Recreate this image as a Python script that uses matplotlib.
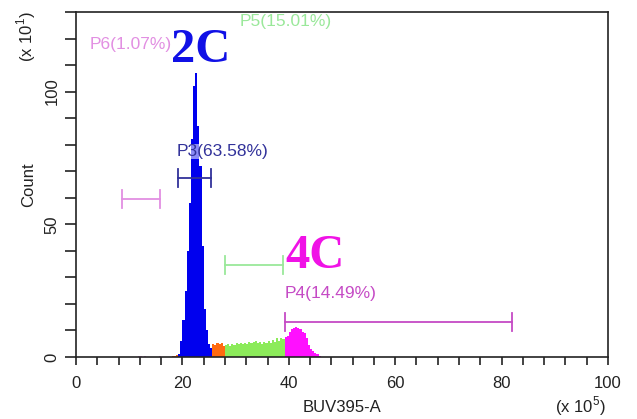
import numpy as np
import matplotlib.pyplot as plt

# ------------------------------------------------------------------
# Dados (lidos do histograma BUV395-A, eixo x em x10^5, contagem em x10^1)
# ------------------------------------------------------------------
BIN_START = 8.0
BIN_WIDTH = 0.4
counts = [
    0, 0, 0, 0, 0, 0, 0, 0, 0, 0.4,              # 8.0 - 11.6
    0.4, 0, 0.4, 0, 0, 0, 0, 0, 0, 0.4,          # 12.0 - 15.6
    0, 0, 0, 0, 0, 0.4, 0.5, 0.6, 1.0, 6,        # 16.0 - 19.6
    14, 25, 40, 58, 82, 102, 107, 87, 72, 42,    # 20.0 - 23.6
    18, 10, 5, 3.5, 5, 4.6, 5.2, 4.8, 5.3, 4.2,  # 24.0 - 27.6
    4.5, 4.8, 4.3, 5.0, 4.6, 5.2, 4.8, 5.3, 4.9, 5.4,  # 28.0 - 31.6
    5.0, 5.6, 5.1, 5.5, 5.9, 5.2, 5.6, 5.0, 5.8, 5.3,  # 32.0 - 35.6
    6.2, 5.4, 6.5, 5.8, 7.0, 6.0, 7.2, 6.8, 7.5, 8.0,  # 36.0 - 39.6
    9.5, 10.5, 11.0, 11.2, 11.0, 10.6, 9.5, 9.0, 7.0, 4.5,  # 40.0 - 43.6
    3.0, 2.2, 1.6, 1.0, 0.5,                     # 44.0 - 45.6
]

# portões
gate_names = ["P6", "P3", "P5", "P4"]
gate_pct = ["1.07", "63.58", "15.01", "14.49"]
gate_lo = [8.6, 19.2, 28.0, 39.2]
gate_hi = [15.8, 25.4, 39.0, 82.0]
gate_y = [59.5, 67.4, 34.8, 13.3]
gate_label_xy = [(2.6, 117.8), (19.0, 77.3), (30.8, 126.5), (39.3, 23.9)]
gate_colors = ["#e28fe2", "#32329a", "#9ae89a", "#c54ac5"]
fill_colors = {"P6": "#e28fe2", "P3": "#0000ee", "P5": "#8ceb5a", "P4": "#ff10ff"}
other_color = "#ff6a10"

FONT = "Liberation Sans"
plt.rcParams["font.family"] = [FONT, "DejaVu Sans"]

fig = plt.figure(figsize=(6.37, 4.19), dpi=100)
ax = fig.add_axes([0.1193, 0.1480, 0.8352, 0.8234])

lefts = BIN_START + BIN_WIDTH * np.arange(len(counts))
centers = lefts + BIN_WIDTH / 2
cols = []
for c in centers:
    col = other_color
    for name, lo, hi in zip(gate_names, gate_lo, gate_hi):
        if lo <= c <= hi:
            col = fill_colors[name]
    cols.append(col)
ax.bar(lefts, counts, width=BIN_WIDTH, align="edge", color=cols, linewidth=0)

# barras dos portões
cap = 3.4
for name, pct, lo, hi, y, (tx, ty), col in zip(gate_names, gate_pct, gate_lo, gate_hi,
                                               gate_y, gate_label_xy, gate_colors):
    ax.plot([lo, hi], [y, y], color=col, lw=1.3)
    ax.plot([lo, lo], [y - cap, y + cap], color=col, lw=1.3)
    ax.plot([hi, hi], [y - cap, y + cap], color=col, lw=1.3)
    kw = {}
    if name == "P3":
        kw["bbox"] = dict(facecolor="white", alpha=0.55, edgecolor="none", pad=0)
    ax.text(tx, ty, f"{name}({pct}%)", color=col, fontsize=12.5,
            ha="left", va="center", **kw)

ax.text(23.4, 115.5, "2C", color="#1010e6", fontsize=35, fontweight="bold",
        family="Liberation Serif", ha="center", va="center")
ax.text(45.0, 38.0, "4C", color="#f012e6", fontsize=35, fontweight="bold",
        family="Liberation Serif", ha="center", va="center")

ax.set_xlim(0, 100)
ax.set_ylim(0, 130)
ax.set_xticks(np.arange(0, 101, 20))
ax.set_xticks(np.arange(0, 101, 4), minor=True)
ax.set_yticks([0, 50, 100])
ax.set_yticks(np.arange(0, 131, 10), minor=True)
ax.tick_params(axis="x", which="both", direction="out", length=6, width=1.2,
               labelsize=12, pad=8, colors="#222222")
ax.tick_params(axis="y", which="both", direction="out", length=8, width=1.2,
               labelsize=12, pad=4, colors="#222222")
for lab in ax.get_yticklabels():
    lab.set_rotation(90)
    lab.set_va("center")
for s in ax.spines.values():
    s.set_linewidth(1.2)
    s.set_color("#222222")

ax.set_xlabel("BUV395-A", fontsize=12, color="#222222", labelpad=6)
ax.set_ylabel("Count", fontsize=12, color="#222222", labelpad=6)
fig.text(580 / 637, 1 - 406 / 419, r"(x 10$^\mathregular{5}$)", fontsize=12,
         ha="center", va="center", color="#222222")
fig.text(26 / 637, 1 - 37 / 419, r"(x 10$^\mathregular{1}$)", fontsize=12,
         ha="center", va="center", rotation=90, color="#222222")

fig.savefig("out.png", dpi=100)
